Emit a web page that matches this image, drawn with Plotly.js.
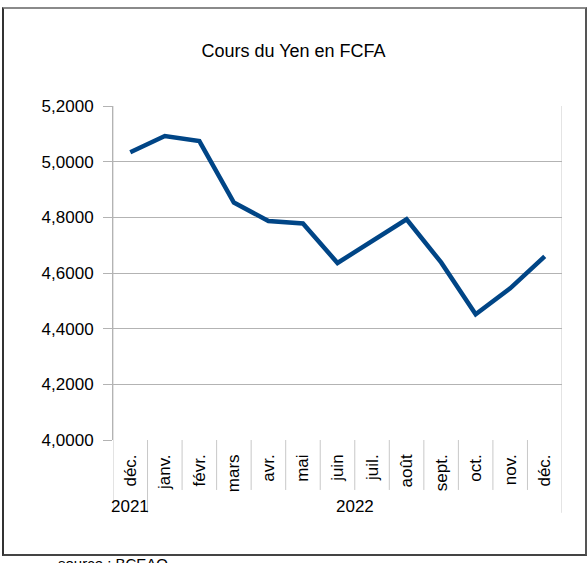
<!DOCTYPE html>
<html>
<head>
<meta charset="utf-8">
<script src="https://cdn.plot.ly/plotly-3.0.1.min.js"></script>
<style>
  html, body { margin: 0; padding: 0; background: #fff; }
  #wrap { position: relative; width: 587px; height: 563px; overflow: hidden; }
  #chart { position: absolute; left: 0; top: 0; width: 587px; height: 563px; }
  #frame { position: absolute; left: 2px; top: 7px; width: 581px; height: 545px;
           border-left: 2px solid #333; border-top: 2px solid #8a8a8a;
           border-right: 2px solid #555; border-bottom: 2px solid #444; pointer-events: none; }
</style>
</head>
<body>
<div id="wrap">
  <div id="chart"></div>
  <div id="frame"></div>
</div>
<script>
const months = ['déc.', 'janv.', 'févr.', 'mars', 'avr.', 'mai', 'juin', 'juil.', 'août', 'sept.', 'oct.', 'nov.', 'déc.'];
const values = [5.034, 5.092, 5.074, 4.853, 4.787, 4.778, 4.636, 4.715, 4.793, 4.638, 4.452, 4.545, 4.660];
const years = ['2021', '2022'];
const yearFirst = [0, 1];
const yearLast = [0, 12];
const yTicks = [4.0, 4.2, 4.4, 4.6, 4.8, 5.0, 5.2];

const idx = months.map((m, i) => i);
const FONT = 'Liberation Sans, Arial, sans-serif';

const shapes = [];
// category separators below the axis
const n = months.length;
for (let i = 0; i <= n; i++) {
  const xv = i - 0.5;
  const isEdge = (i === 0 || i === n);
  const isYear = isEdge || yearFirst.includes(i);
  shapes.push({
    type: 'line', xref: 'x', yref: 'paper',
    x0: xv, x1: xv, y0: isEdge ? 1 : 0, y1: isYear ? -0.218 : -0.1496,
    line: {color: '#c8c8c8', width: 1}, layer: 'below'
  });
}

const annotations = years.map((y, k) => ({
  text: y, xref: 'x', yref: 'paper',
  x: (yearFirst[k] + yearLast[k]) / 2, y: -0.2004,
  xanchor: 'center', yanchor: 'middle', showarrow: false,
  font: {family: FONT, size: 17, color: '#000'}
}));
annotations.push({
  text: 'source : BCEAO', xref: 'paper', yref: 'paper',
  x: (56 - 113.3) / 448.4, y: -0.338, xanchor: 'left', yanchor: 'top',
  showarrow: false, font: {family: FONT, size: 15, color: '#000'}
});

const trace = {
  x: idx, y: values, type: 'scatter', mode: 'lines',
  line: {color: '#004586', width: 4.5},
  hoverinfo: 'skip'
};

const layout = {
  width: 587, height: 563,
  margin: {l: 113, r: 25, t: 106, b: 123, pad: 0},
  paper_bgcolor: '#fff', plot_bgcolor: '#fff',
  separators: ', ',
  showlegend: false,
  font: {family: FONT, size: 17, color: '#000'},
  title: {
    text: 'Cours du Yen en FCFA',
    font: {family: FONT, size: 18, color: '#000'},
    x: 0.5, xanchor: 'center', xref: 'container',
    y: 1 - 51 / 563, yanchor: 'middle', yref: 'container'
  },
  xaxis: {
    type: 'linear', range: [-0.5, 12.5], fixedrange: true,
    tickmode: 'array', tickvals: idx, ticktext: months,
    tickangle: -90, ticks: '', showgrid: false, zeroline: false,
    showline: false, ticklabelstandoff: 10,
    tickfont: {family: FONT, size: 17, color: '#000'}
  },
  yaxis: {
    range: [4.0, 5.2], fixedrange: true,
    tickmode: 'array', tickvals: yTicks, tickformat: '.4f',
    showgrid: true, gridcolor: '#b3b3b3', gridwidth: 1,
    zeroline: false, showline: true, linecolor: '#b3b3b3', linewidth: 1,
    ticks: 'outside', ticklen: 9, tickcolor: '#b3b3b3', tickwidth: 1,
    ticklabelstandoff: 6,
    tickfont: {family: FONT, size: 17, color: '#000'}
  },
  shapes: shapes,
  annotations: annotations
};

Plotly.newPlot('chart', [trace], layout, {staticPlot: true, displayModeBar: false});
</script>
</body>
</html>
